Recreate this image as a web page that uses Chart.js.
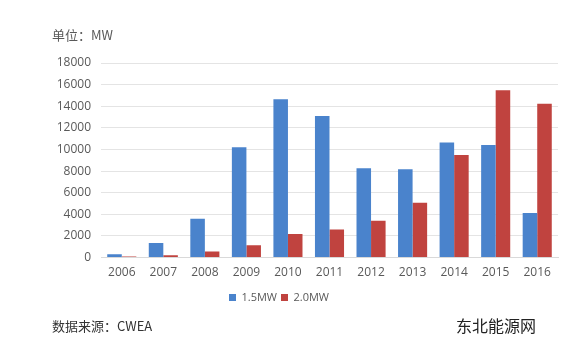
<!DOCTYPE html>
<html>
<head>
<meta charset="utf-8">
<script src="https://cdn.jsdelivr.net/npm/chart.js@4"></script>
<style>
  body { margin: 0; background: #fff; }
  #wrap { position: relative; width: 581px; height: 348px; }
  .txt { position: absolute; font-family: "Noto Sans CJK SC", sans-serif; color: #404040; white-space: nowrap; }
</style>
</head>
<body>
<div id="wrap">
  <canvas id="MarketChart" width="581" height="348"></canvas>
  <div class="txt" style="left:52px; top:25px; font-size:13px; color:#595959;">单位：MW</div>
  <div class="txt" style="left:52px; top:316px; font-size:13px; color:#333;">数据来源：CWEA</div>
  <div class="txt" style="left:456px; top:313px; font-size:16px; color:#222;">东北能源网</div>
</div>
<script>
var years = ['2006', '2007', '2008', '2009', '2010', '2011', '2012', '2013', '2014', '2015', '2016'];
var mw15 = [310, 1340, 3600, 10200, 14650, 13100, 8260, 8170, 10640, 10420, 4130];
var mw20 = [100, 210, 560, 1150, 2190, 2600, 3410, 5070, 9480, 15490, 14240];
var yTicks = [0, 2000, 4000, 6000, 8000, 10000, 12000, 14000, 16000, 18000];

var ctx = document.getElementById('MarketChart').getContext('2d');
Chart.defaults.font.family = '"Open Sans", sans-serif';
Chart.defaults.color = '#595959';
var MarketChart = new Chart(ctx, {
    type: 'bar',
    data: {
        labels: years,
        datasets: [{
            label: '1.5MW',
            data: mw15,
            backgroundColor: '#4a83cc'
        }, {
            label: '2.0MW',
            data: mw20,
            backgroundColor: '#c0433f'
        }]
    },
    options: {
        responsive: false,
        animation: false,
        layout: {
            padding: { left: 0, right: 23, top: 63, bottom: 35 }
        },
        datasets: {
            bar: { categoryPercentage: 0.7, barPercentage: 1 }
        },
        scales: {
            x: {
                grid: { display: false, drawTicks: false },
                border: { color: '#d9d9d9' },
                ticks: { padding: 8, font: { size: 12 } }
            },
            y: {
                min: 0,
                max: 18000,
                afterFit: function (scale) { scale.width = 101; },
                afterBuildTicks: function (scale) {
                    scale.ticks = yTicks.map(function (v) { return { value: v }; });
                },
                grid: { color: '#e4e4e4', drawTicks: false },
                border: { display: false },
                ticks: {
                    padding: 10,
                    font: { size: 12 },
                    callback: function (v) { return String(v); }
                }
            }
        },
        plugins: {
            legend: {
                position: 'bottom',
                labels: {
                    boxWidth: 7,
                    boxHeight: 7,
                    padding: 4,
                    font: { size: 11 }
                }
            },
            tooltip: { enabled: false }
        }
    }
});
</script>
</body>
</html>
